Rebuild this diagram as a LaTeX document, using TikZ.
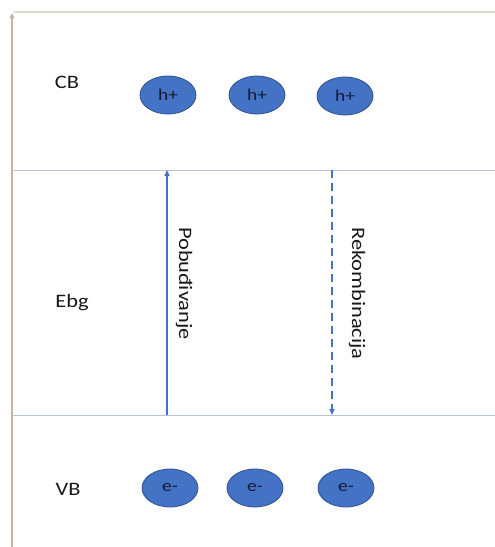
\documentclass[tikz,border=0pt]{standalone}
\usepackage{fontspec}
\usepackage{graphicx}
\setmainfont{Carlito}
\usetikzlibrary{arrows.meta,shapes.geometric}
\definecolor{ebl}{HTML}{4472C4}
\definecolor{ebd}{HTML}{2F528F}
\definecolor{axc}{HTML}{C8B49C}
\definecolor{topc}{HTML}{D6DCD0}
\definecolor{lvl}{HTML}{B8C2DC}
\definecolor{ptxt}{HTML}{141C33}
\newcommand{\wtext}[2]{\scalebox{1.18}[1]{\fontsize{#1}{#1}\selectfont #2}}
\tikzset{
  part/.style={ellipse, draw=ebd, fill=ebl, line width=0.8pt, minimum width=56pt, minimum height=38pt, inner sep=0pt, text=ptxt},
  lbl/.style={text=black!90, inner sep=0pt, anchor=base},
  lvlline/.style={draw=lvl, line width=0.8pt},
  rotlbl/.style={rotate=-90, text=black!90, inner sep=0pt}
}
\begin{document}
\begin{tikzpicture}[x=1pt, y=-1pt]
\useasboundingbox (0,0) rectangle (495,547);
\fill[white] (0,0) rectangle (495,547);
% axis
\coordinate (axb) at (12,547);
\coordinate (axt) at (12,13);
\draw[axc, line width=1.6pt, -{Triangle[length=5pt,width=4.5pt]}] (axb) -- (axt);
\coordinate (tl) at (14,12);
\coordinate (tr) at (495,12);
\draw[topc, line width=1.5pt] (tl) -- (tr);
% level lines
\coordinate (c1) at (12,170);
\coordinate (c2) at (495,170);
\coordinate (v1) at (12,415);
\coordinate (v2) at (495,415);
\draw[lvlline] (c1) -- (c2);
\draw[lvlline] (v1) -- (v2);
% labels
\node[lbl] (cb) at (67,88.5) {\wtext{19}{CB}};
\node[lbl] (ebg) at (72,307) {\wtext{19}{Ebg}};
\node[lbl] (vb) at (68,495) {\wtext{19}{VB}};
% particles
\node[part] (h1) at (168,95) {\wtext{16.5}{h+}};
\node[part] (h2) at (257,95) {\wtext{16.5}{h+}};
\node[part] (h3) at (345,96) {\wtext{16.5}{h+}};
\node[part] (e1) at (170,488) {\wtext{16.5}{e-}};
\node[part] (e2) at (255,488) {\wtext{16.5}{e-}};
\node[part] (e3) at (346,488) {\wtext{16.5}{e-}};
% arrows
\coordinate (a1b) at (167,415);
\coordinate (a1t) at (167,170);
\draw[ebl, line width=1.8pt, -{Triangle[length=6pt,width=5pt]}] (a1b) -- (a1t);
\coordinate (a2t) at (332,170);
\coordinate (a2b) at (332,415);
\draw[ebl, line width=1.8pt, dash pattern=on 8pt off 5pt, -{Triangle[length=6pt,width=5pt]}] (a2t) -- (a2b);
\node[rotlbl] (pob) at (184,283.5) {\wtext{19}{Pobuđivanje}};
\node[rotlbl] (rek) at (357,293.5) {\wtext{19}{Rekombinacija}};
\end{tikzpicture}
\end{document}
